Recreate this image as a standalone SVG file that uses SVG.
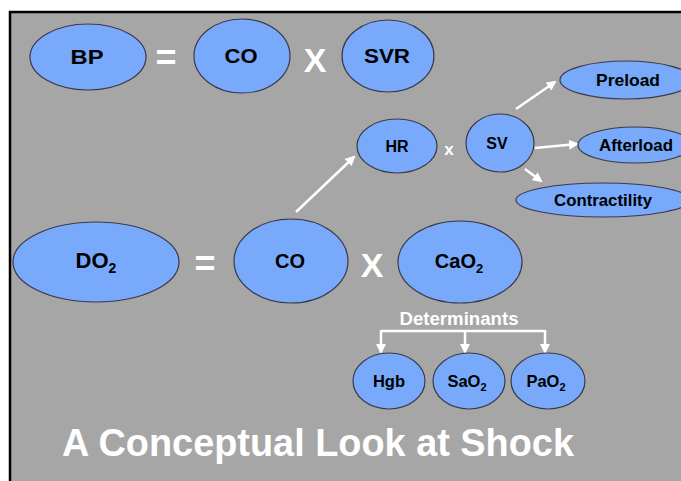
<svg xmlns="http://www.w3.org/2000/svg" width="681" height="481" viewBox="0 0 681 481">
<style>
.n{fill:#78a9fa;stroke:#3a3a4a;stroke-width:1.2}
.t{font-family:"Liberation Sans",Arial,sans-serif;font-weight:bold;fill:#000;text-anchor:middle}
.w{font-family:"Liberation Sans",Arial,sans-serif;font-weight:bold;fill:#fff;text-anchor:middle}
.c{stroke:#fff;stroke-width:2.5;fill:none}
</style>
<defs>
<marker id="ah" viewBox="0 0 10 10" refX="8" refY="5" markerWidth="4" markerHeight="4" orient="auto" markerUnits="strokeWidth">
<path d="M0,0 L10,5 L0,10 z" fill="#fff"/>
</marker>
</defs>
<rect x="0" y="0" width="681" height="481" fill="#fff"/>
<rect x="10" y="12" width="671" height="469" fill="#a6a6a6"/>
<path d="M10,481 L10,12 L681,12" stroke="#000" stroke-width="2.5" fill="none"/>

<g id="connectors">
<line class="c" x1="296" y1="212" x2="354" y2="157" marker-end="url(#ah)"/>
<line class="c" x1="516" y1="109" x2="555" y2="82" marker-end="url(#ah)"/>
<line class="c" x1="535" y1="148" x2="577" y2="144" marker-end="url(#ah)"/>
<line class="c" x1="525" y1="169" x2="541" y2="181" marker-end="url(#ah)"/>
<path class="c" d="M381,331 L545,331"/>
<line class="c" x1="381" y1="330" x2="381" y2="352" marker-end="url(#ah)"/>
<line class="c" x1="465" y1="331" x2="465" y2="352" marker-end="url(#ah)"/>
<line class="c" x1="545" y1="330" x2="545" y2="352" marker-end="url(#ah)"/>
</g>

<g id="BP"><ellipse class="n" cx="88" cy="57" rx="58" ry="33"/><text class="t" x="87" y="64" font-size="21" textLength="33" lengthAdjust="spacingAndGlyphs">BP</text></g>
<text class="w" x="166" y="70" font-size="36">=</text>
<g id="CO1"><ellipse class="n" cx="242" cy="56" rx="48" ry="37"/><text class="t" x="241" y="63" font-size="21" textLength="33" lengthAdjust="spacingAndGlyphs">CO</text></g>
<text class="w" x="315" y="72" font-size="34">X</text>
<g id="SVR"><ellipse class="n" cx="388" cy="56" rx="46" ry="36"/><text class="t" x="387" y="63" font-size="21" textLength="46" lengthAdjust="spacingAndGlyphs">SVR</text></g>

<g id="Preload"><ellipse class="n" cx="626" cy="80" rx="66" ry="19"/><text class="t" x="628" y="86" font-size="16.5" textLength="64" lengthAdjust="spacingAndGlyphs">Preload</text></g>
<g id="HR"><ellipse class="n" cx="397" cy="146" rx="40" ry="27"/><text class="t" x="397" y="152" font-size="16">HR</text></g>
<text class="w" x="449" y="155" font-size="17">x</text>
<g id="SV"><ellipse class="n" cx="500" cy="143" rx="34" ry="29"/><text class="t" x="497" y="149" font-size="16">SV</text></g>
<g id="Afterload"><ellipse class="n" cx="635" cy="145" rx="57" ry="18"/><text class="t" x="636" y="151" font-size="16.5" textLength="74" lengthAdjust="spacingAndGlyphs">Afterload</text></g>
<g id="Contractility"><ellipse class="n" cx="603" cy="200" rx="87" ry="17"/><text class="t" x="603" y="206" font-size="16.5" textLength="98" lengthAdjust="spacingAndGlyphs">Contractility</text></g>

<g id="DO2"><ellipse class="n" cx="96" cy="262" rx="83" ry="40"/><text class="t" x="96" y="268" font-size="22">DO<tspan font-size="14" dy="5">2</tspan></text></g>
<text class="w" x="205" y="276" font-size="36">=</text>
<g id="CO2"><ellipse class="n" cx="291" cy="261" rx="57" ry="42"/><text class="t" x="290" y="268" font-size="20">CO</text></g>
<text class="w" x="372" y="277" font-size="34">X</text>
<g id="CaO2"><ellipse class="n" cx="460" cy="262" rx="62" ry="41"/><text class="t" x="459" y="268" font-size="20">CaO<tspan font-size="13" dy="5">2</tspan></text></g>

<text class="w" x="459" y="325" font-size="18" textLength="119" lengthAdjust="spacingAndGlyphs">Determinants</text>

<g id="Hgb"><ellipse class="n" cx="389" cy="381" rx="36" ry="28"/><text class="t" x="389" y="387" font-size="16.5">Hgb</text></g>
<g id="SaO2"><ellipse class="n" cx="469" cy="381" rx="36" ry="28"/><text class="t" x="467" y="387" font-size="16.5">SaO<tspan font-size="11" dy="4">2</tspan></text></g>
<g id="PaO2"><ellipse class="n" cx="548" cy="381" rx="37" ry="28"/><text class="t" x="546" y="387" font-size="16.5">PaO<tspan font-size="11" dy="4">2</tspan></text></g>

<text class="w" x="318" y="456" font-size="38" textLength="512" lengthAdjust="spacingAndGlyphs">A Conceptual Look at Shock</text>
</svg>
